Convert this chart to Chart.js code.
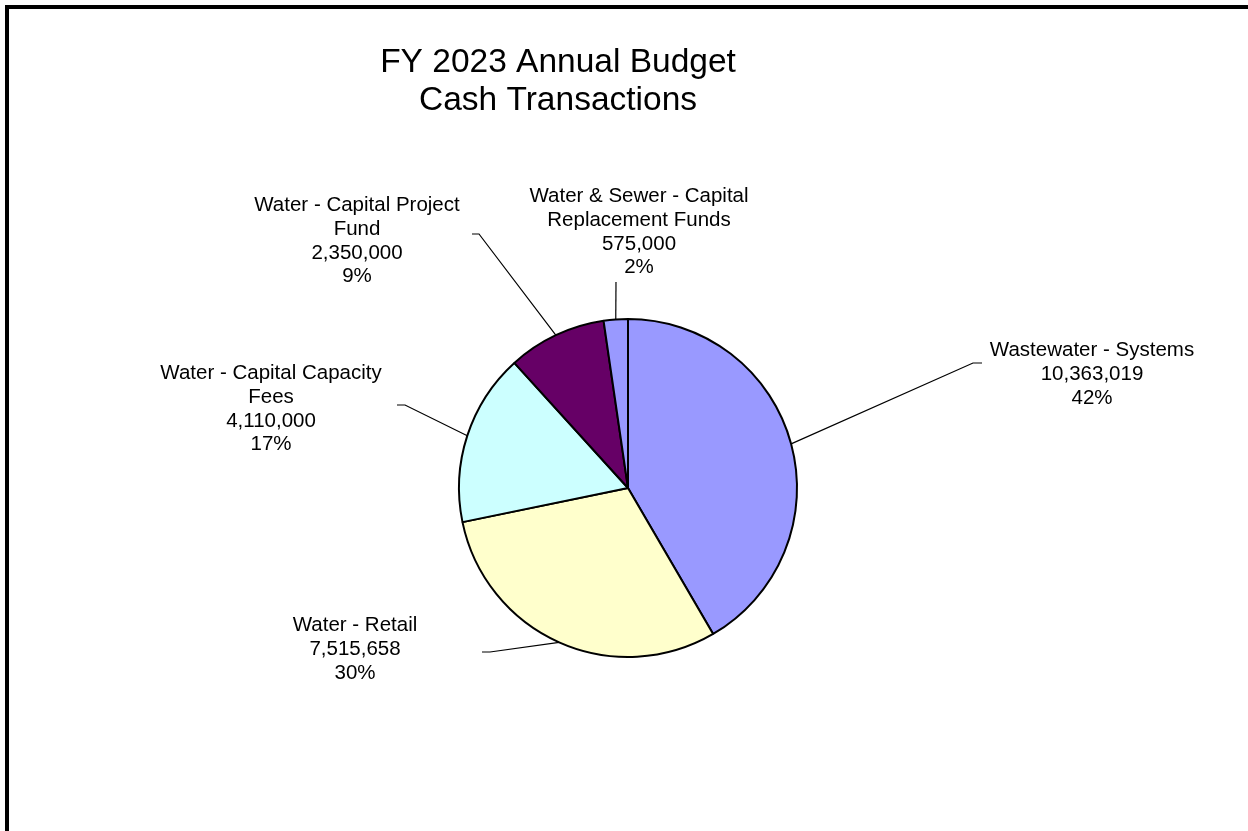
<!DOCTYPE html>
<html>
<head>
<meta charset="utf-8">
<title>FY 2023 Annual Budget - Cash Transactions</title>
<script src="https://cdn.jsdelivr.net/npm/chart.js@4"></script>
<style>
  body { margin: 0; background: #fff; }
  #wrap { position: relative; width: 1248px; height: 831px; overflow: hidden; }
  #frame {
    position: absolute; left: 5px; top: 5px; width: 1300px; height: 900px;
    border-top: 4px solid #000; border-left: 4px solid #000;
    pointer-events: none;
  }
</style>
</head>
<body>
<div id="wrap">
  <canvas id="budgetChart" width="1248" height="831"></canvas>
  <div id="frame"></div>
</div>
<script>
// budget data, slices go clockwise from 12 o'clock
let categories = [
  ['Wastewater - Systems'],
  ['Water - Retail'],
  ['Water - Capital Capacity', 'Fees'],
  ['Water - Capital Project', 'Fund'],
  ['Water & Sewer - Capital', 'Replacement Funds']
];
let amounts = [10363019, 7515658, 4110000, 2350000, 575000];
let percents = [42, 30, 17, 9, 2];
let sliceColors = ['#9999FF', '#FFFFCC', '#CCFFFF', '#660066', '#9999FF'];
let titleLines = ['FY 2023 Annual Budget', 'Cash Transactions'];

// where each callout sits: text centre, first baseline, leader elbow and end
let callouts = [
  { cx: 1092, y: 356, elbow: [973, 363], end: [982, 363] },
  { cx: 355, y: 631, elbow: [490, 652], end: [482, 652] },
  { cx: 271, y: 379, elbow: [405, 405], end: [397, 405] },
  { cx: 357, y: 211, elbow: [479, 234], end: [472, 234] },
  { cx: 639, y: 202, elbow: [616, 282], end: [616, 282] }
];

const FONT = '"Liberation Sans", Arial, sans-serif';

// title drawn left of the pie centre
const titlePlugin = {
  id: 'budgetTitle',
  afterDraw(chart) {
    let ctx = chart.ctx;
    ctx.save();
    ctx.fillStyle = '#000';
    ctx.font = '33.5px ' + FONT;
    ctx.textAlign = 'center';
    ctx.textBaseline = 'alphabetic';
    ctx.fillText(titleLines[0], 558, 72);
    ctx.fillText(titleLines[1], 558, 110);
    ctx.restore();
  }
};

// outside labels with leader lines from the middle of each arc
const calloutPlugin = {
  id: 'callouts',
  afterDatasetsDraw(chart) {
    let ctx = chart.ctx;
    let arcs = chart.getDatasetMeta(0).data;
    ctx.save();
    arcs.forEach(function (arc, i) {
      let p = arc.getProps(['x', 'y', 'startAngle', 'endAngle', 'outerRadius'], true);
      let mid = (p.startAngle + p.endAngle) / 2;
      let ax = p.x + Math.cos(mid) * p.outerRadius;
      let ay = p.y + Math.sin(mid) * p.outerRadius;
      let c = callouts[i];

      ctx.strokeStyle = '#000';
      ctx.lineWidth = 1.2;
      ctx.beginPath();
      ctx.moveTo(ax, ay);
      ctx.lineTo(c.elbow[0], c.elbow[1]);
      ctx.lineTo(c.end[0], c.end[1]);
      ctx.stroke();

      let lines = categories[i].concat([
        amounts[i].toLocaleString('en-US'),
        percents[i] + '%'
      ]);
      ctx.fillStyle = '#000';
      ctx.font = '20.5px ' + FONT;
      ctx.textAlign = 'center';
      ctx.textBaseline = 'alphabetic';
      lines.forEach(function (txt, j) {
        ctx.fillText(txt, c.cx, c.y + j * 23.8);
      });
    });
    ctx.restore();
  }
};

let ctx = document.getElementById('budgetChart').getContext('2d');
let budgetChart = new Chart(ctx, {
  type: 'pie',
  data: {
    labels: categories.map(function (c) { return c.join(' '); }),
    datasets: [{
      data: amounts,
      backgroundColor: sliceColors,
      borderColor: '#000',
      borderWidth: 2
    }]
  },
  options: {
    responsive: false,
    animation: false,
    layout: {
      padding: { left: 458, right: 450, top: 318, bottom: 173 }
    },
    plugins: {
      legend: { display: false },
      tooltip: { enabled: false },
      title: { display: false }
    }
  },
  plugins: [titlePlugin, calloutPlugin]
});
</script>
</body>
</html>
